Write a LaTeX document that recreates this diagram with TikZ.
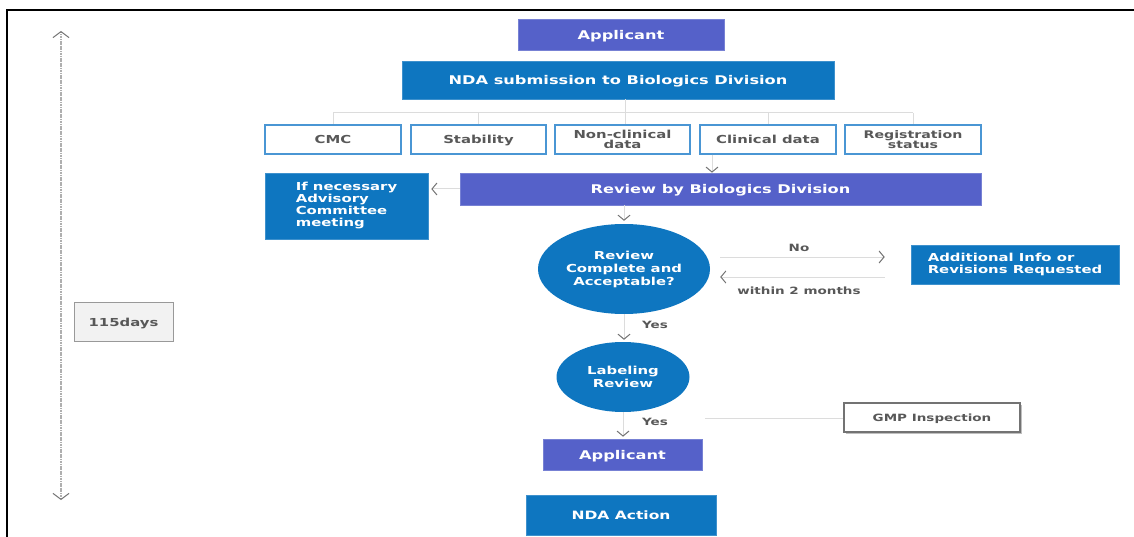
\documentclass[tikz,border=0pt]{standalone}
\usepackage{fontspec}
\setmainfont{DejaVu Sans}[FakeStretch=1.35]
\usetikzlibrary{arrows.meta,calc,shapes.geometric}

\definecolor{indigo}{RGB}{85,97,201}
\definecolor{azure}{RGB}{14,118,192}
\definecolor{edge}{RGB}{74,150,212}
\definecolor{ink}{RGB}{88,88,88}
\definecolor{wire}{RGB}{220,220,220}
\definecolor{barb}{RGB}{115,115,115}
\definecolor{rail}{RGB}{175,175,175}

\newcommand{\fs}[2]{\fontsize{#1}{#2}\selectfont}

\tikzset{
  chev/.tip={Straight Barb[length=5pt,width=12pt,line width=1pt,color=barb]},
  bigchev/.tip={Straight Barb[length=6pt,width=16pt,line width=1pt,color=barb]},
  base/.style={rectangle, inner sep=0pt, font=\bfseries\fs{12}{13}},
  one line/.style={text depth=0pt},
  violet box/.style={base, fill=indigo, draw=indigo!80!white, line width=0.6pt, text=white},
  blue box/.style={base, fill=azure, draw=azure!80!white, line width=0.6pt, text=white},
  item box/.style={base, fill=white, draw=edge, line width=1.4pt, text=ink,
    minimum width=135pt, minimum height=29pt, align=center, font=\bfseries\fs{11}{10.5}},
  oval/.style={ellipse, inner sep=0pt, fill=azure, text=white, align=center},
  wire line/.style={draw=wire, line width=1pt},
  flow/.style={wire line, -chev},
  note/.style={text=ink, font=\bfseries\fs{10}{11}, inner sep=0pt},
}

\begin{document}
\begin{tikzpicture}[x=1pt, y=-1pt]
  \useasboundingbox (0,0) rectangle (1134,537);

  % page frame (top and left edges)
  \draw[black, line width=1.3pt] (7,537) -- (7,10) -- (1134,10);

  % time line on the left
  \coordinate (ttop) at (61,31);
  \coordinate (tbot) at (61,500);
  \draw[draw=rail, line width=1.6pt, dash pattern=on 1.2pt off 0.5pt, bigchev-bigchev] (ttop) -- (tbot);
  \node[base, one line, fill=black!5, draw=black!40, line width=1pt, text=ink,
        minimum width=99pt, minimum height=39pt, font=\bfseries\fs{11}{12}] (days) at (123.5,322) {115days};

  % submission
  \node[violet box, one line, minimum width=206pt, minimum height=31pt] (app1) at (621,34.5) {Applicant};
  \node[blue box, one line, minimum width=432pt, minimum height=38pt] (nda) at (618,80) {NDA submission to Biologics Division};

  % dossier parts
  \node[item box, one line, minimum width=136pt] (cmc)  at (333,139.5)   {CMC};
  \node[item box, one line] (stab) at (478.5,139.5) {Stability};
  \node[item box] (nonc) at (622.5,139.5) {Non-clinical\\data};
  \node[item box, one line, minimum width=136pt] (clin) at (768,139.5) {Clinical data};
  \node[item box, minimum width=136pt, font=\bfseries\fs{10.5}{10.5}] (reg) at (913,139.5) {Registration\\status};

  % branch lines from the submission to the parts
  \coordinate (hub) at (625,113);
  \draw[wire line] (hub -| cmc.north) -- (hub -| reg.north);
  \draw[wire line] (nda.south -| hub) -- (nonc.north -| hub);
  \draw[wire line] (hub -| cmc.north) -- (cmc.north);
  \draw[wire line] (hub -| stab.north) -- (stab.north);
  \draw[wire line] (hub -| clin.north) -- (clin.north);
  \draw[wire line] (hub -| reg.north) -- (reg.north);

  % review
  \node[violet box, one line, minimum width=521pt, minimum height=32pt] (rev) at (720.5,189) {Review by Biologics Division};
  \node[blue box, minimum width=163pt, minimum height=66pt, align=left,
        font=\bfseries\fs{11}{12}] (adv) at (346.5,206)
        {If necessary\\Advisory\\Committee\\meeting};
  \draw[flow] ([xshift=-56pt]clin.south) -- ([xshift=-56pt]clin.south |- rev.north);
  \draw[flow] (rev.west) -- ([xshift=3pt]rev.west -| adv.east);

  % decision
  \node[oval, minimum width=172pt, minimum height=90pt, font=\bfseries\fs{11}{13}] (dec) at (624,269)
        {Review\\Complete and\\Acceptable?};
  \draw[flow, shorten >=3pt] (dec.north |- rev.south) -- (dec.north);

  \node[blue box, minimum width=208pt, minimum height=39pt,
        align=left, font=\bfseries\fs{11}{12}] (addl) at (1015,264.5)
        {Additional Info or\\Revisions Requested};
  \draw[flow] ($(dec.east)+(10,-12)$) -- ($(dec.east -| addl.west)+(-26,-12)$);
  \draw[flow] ($(dec.east -| addl.west)+(-26,8)$) -- ($(dec.east)+(10,8)$);
  \node[note] (no) at (799,248) {No};
  \node[note] (back) at (799,291) {within 2 months};

  % labeling
  \node[oval, minimum width=133pt, minimum height=70pt, font=\bfseries\fs{11}{13}] (lab) at (623,377)
        {Labeling\\Review};
  \draw[flow, shorten >=2pt] (dec.south) -- (dec.south |- lab.north);
  \node[note] (yes1) at (655,325) {Yes};

  \node[violet box, one line, minimum width=159pt, minimum height=31pt] (app2) at (622.5,454.5) {Applicant};
  \draw[flow, shorten >=2pt] (lab.south) -- (lab.south |- app2.north);
  \node[note] (yes2) at (655,422) {Yes};

  % GMP inspection
  \node[base, fill=black!25, minimum width=176pt, minimum height=29pt] (gmpshade) at (933.5,419) {};
  \node[base, one line, fill=white, draw=black!55, line width=1.2pt, text=ink,
        minimum width=176pt, minimum height=29pt, font=\bfseries\fs{10}{11}] (gmp) at (932,417.5) {GMP Inspection};
  \coordinate (gmpfoot) at (705,418);
  \draw[wire line] (gmpfoot) -- (gmpfoot -| gmp.west);

  % final action
  \node[blue box, one line, minimum width=190pt, minimum height=40pt, font=\bfseries\fs{11.5}{12}] (act) at (621,515) {NDA Action};
\end{tikzpicture}
\end{document}
